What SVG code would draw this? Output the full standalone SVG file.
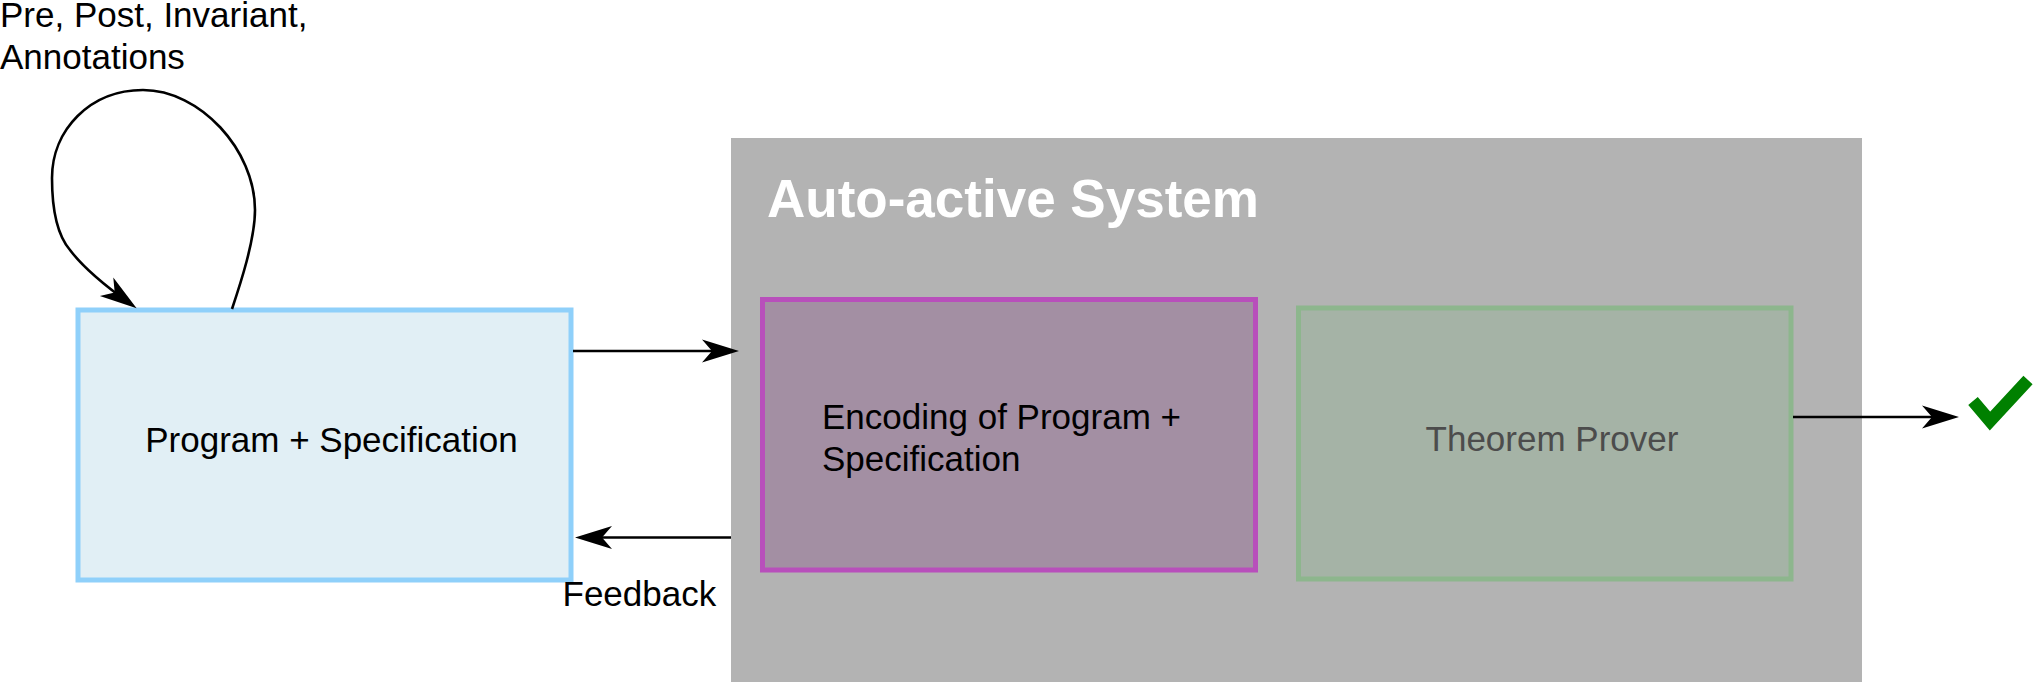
<svg xmlns="http://www.w3.org/2000/svg" width="2033" height="682" viewBox="0 0 2033 682">
<style>
  .lbl { font-family: "Liberation Sans", Arial, sans-serif; font-size: 35px; fill: #000; }
  .title { font-family: "Liberation Sans", Arial, sans-serif; font-size: 53px; font-weight: bold; fill: #fff; }
  .edge { fill: none; stroke: #000; stroke-width: 2.6; }
</style>
<defs>
  <marker id="arr" markerUnits="userSpaceOnUse" viewBox="-40 -15 55 30" refX="0" refY="0" markerWidth="55" markerHeight="30" orient="auto" overflow="visible">
    <path d="M10,0 L-27,-11.5 L-17,0 L-27,11.5 Z" fill="#000"/>
  </marker>
</defs>
<rect width="2033" height="682" fill="#fff"/>

<g id="auto-active-system">
  <rect x="731" y="138" width="1131" height="560" fill="#b3b3b3"/>
  <text class="title" x="767" y="217">Auto-active System</text>
</g>

<g id="program-spec">
  <rect x="78" y="310" width="493" height="270" fill="#e1eff5" stroke="#8fd0fa" stroke-width="5"/>
  <text class="lbl" x="331.5" y="451.5" text-anchor="middle">Program + Specification</text>
</g>

<g id="encoding">
  <rect x="762.5" y="299.5" width="493" height="270.5" fill="#a38fa3" stroke="#b84fbb" stroke-width="5"/>
  <text class="lbl" x="822" y="428.5">Encoding of Program +</text>
  <text class="lbl" x="822" y="470.5">Specification</text>
</g>

<g id="theorem-prover">
  <rect x="1298.5" y="308" width="492.5" height="271" fill="#a5b3a6" stroke="#8db68d" stroke-width="5"/>
  <text class="lbl" x="1552" y="451" text-anchor="middle" style="fill:#4c4c4c">Theorem Prover</text>
</g>

<g id="check">
  <polyline points="1973,401 1990,421 2028,380" fill="none" stroke="#008000" stroke-width="12.5" stroke-linejoin="miter" stroke-linecap="butt"/>
</g>

<g id="connectors">
  <path class="edge" d="M232,309 C240,285 255,240 255,210 C255,150 200,90 143,90 C90,90 52,130 52,178 C52,210 58,236 70,250 C82,266 100,282 128.5,302.5" marker-end="url(#arr)"/>
  <path class="edge" d="M573,351 H729" marker-end="url(#arr)"/>
  <path class="edge" d="M731,537.5 H585" marker-end="url(#arr)"/>
  <path class="edge" d="M1793,417 H1949" marker-end="url(#arr)"/>
</g>

<g id="labels">
  <text class="lbl" x="0" y="27">Pre, Post, Invariant,</text>
  <text class="lbl" x="0" y="69">Annotations</text>
  <text class="lbl" x="562.5" y="606">Feedback</text>
</g>
</svg>
